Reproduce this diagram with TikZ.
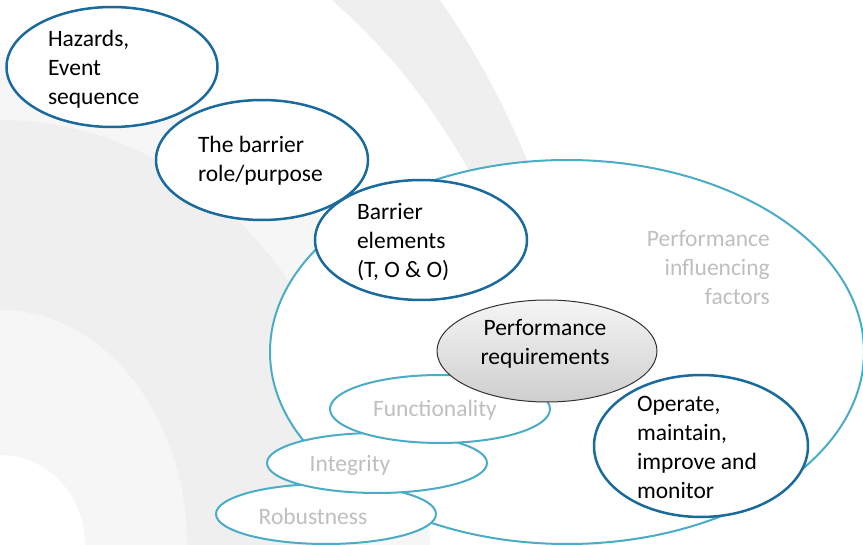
\documentclass[tikz,border=0pt]{standalone}
\usepackage{fontspec}
\setmainfont{Carlito}
\usetikzlibrary{shapes.geometric}
\definecolor{darkblue}{HTML}{1B6A9C}
\definecolor{lightblue}{HTML}{4BACC6}
\definecolor{softgrey}{HTML}{BFBFBF}
\definecolor{bgdark}{HTML}{EFEFEF}
\definecolor{bglight}{HTML}{F6F6F6}

\begin{document}
\begin{tikzpicture}[x=1pt, y=-1pt,
		oval/.style={ellipse, draw=darkblue, line width=2.5pt, fill=white, inner sep=0pt},
		soft/.style={ellipse, draw=lightblue, line width=2pt, fill=white, inner sep=0pt},
		txt/.style={font=\fontsize{23.5}{29}\selectfont, inner sep=0pt, text width=128pt, align=flush left},
		greytxt/.style={font=\fontsize{23.5}{29}\selectfont, inner sep=0pt, text=softgrey}]
		\useasboundingbox (0,0) rectangle (863,545);
		\fill[white] (0,0) rectangle (863,545);
		\begin{scope}
			\clip (0,0) rectangle (863,545);
			\fill[bgdark, even odd rule] (0,545) ellipse [x radius=601pt, y radius=800pt]
				(0,545) ellipse [x radius=564pt, y radius=674pt];
			\fill[bglight] (0,545) ellipse [x radius=430pt, y radius=488pt];
			\fill[bgdark] (0,545) ellipse [x radius=368pt, y radius=425pt];
			\fill[bglight] (0,545) ellipse [x radius=187pt, y radius=235pt];
			\fill[white] (0,545) ellipse [x radius=85pt, y radius=90pt];
		\end{scope}
		
		\node[soft, minimum width=594pt, minimum height=384pt] (pif) at (567,352) {};
		\node[soft, minimum width=220pt, minimum height=60pt] (robust) at (326,514) {};
		\node[soft, minimum width=220pt, minimum height=60pt] (integ) at (377,463) {};
		\node[soft, minimum width=220pt, minimum height=68pt] (func) at (440,409) {};
		\node[ellipse, draw=black!80, line width=1pt, top color=gray!8, bottom color=gray!38,
			minimum width=220pt, minimum height=102pt] (perf) at (547,351) {};
		\node[oval, minimum width=211pt, minimum height=120pt] (haz) at (112,67) {};
		\node[oval, minimum width=212pt, minimum height=120pt] (role) at (262,160) {};
		\node[oval, minimum width=212pt, minimum height=120pt] (elem) at (421,240) {};
		\node[oval, minimum width=214pt, minimum height=142pt] (oper) at (701,446) {};
		
		\node[txt] (hazt) at (112,69) {Hazards,\\Event\\sequence};
		\node[txt] (rolet) at (262,161) {The barrier\\role/purpose};
		\node[txt] (elemt) at (421,242) {Barrier\\elements\\(T, O \& O)};
		\node[txt] (opert) at (701,447) {Operate,\\maintain,\\improve and\\monitor};
		\node[txt, text width=140pt, align=center] (perft) at (545,344) {Performance\\requirements};
		\node[greytxt, text width=140pt, align=flush right, anchor=east] (pift) at (770,268) {Performance\\influencing\\factors};
		\node[greytxt] (funct) at (435,410) {Functionality};
		\node[greytxt] (integt) at (350,465) {Integrity};
		\node[greytxt] (robustt) at (313,516) {Robustness};
	\end{tikzpicture}
\end{document}
